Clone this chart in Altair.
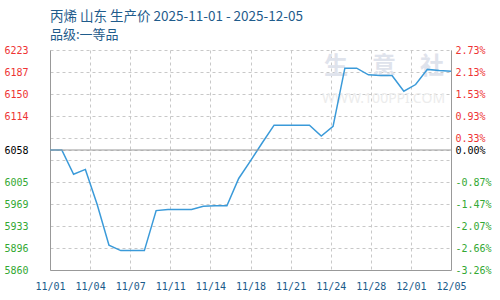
import json
import altair as alt
import numpy as np
import pandas as pd

# ---- data ----
dates = pd.date_range("2025-11-01", "2025-12-05", freq="D")
prices = [6058, 6058, 6018, 6026, 5968, 5901, 5892, 5892, 5892, 5958,
          5960, 5960, 5960, 5965, 5966, 5966, 6011, 6040, 6070, 6099,
          6099, 6099, 6099, 6081, 6097, 6193, 6193, 6182, 6181, 6181,
          6155, 6166, 6191, 6189, 6188]
x_tick_labels = ["11/01", "11/04", "11/07", "11/11", "11/14", "11/18",
                 "11/21", "11/24", "11/28", "12/01", "12/05"]
pct_labels = ["-3.26%", "-2.66%", "-2.07%", "-1.47%", "-0.87%", "",
              "0.33%", "0.93%", "1.53%", "2.13%", "2.73%"]
y_min, y_max, base = 5860, 6223, 6058
title_text = "丙烯 山东 生产价 2025-11-01 - 2025-12-05"
subtitle_text = "品级:一等品"
watermark = ["生\u3000意\u3000社", "WWW.100PPI.COM"]

df = pd.DataFrame({"day": (dates - dates[0]).days, "price": prices})
span = int(df["day"].max())
n = len(x_tick_labels)
step = span / (n - 1)
x_vals = [float(v) for v in np.linspace(0, span, n)]
y_vals = [float(v) for v in np.linspace(y_min, y_max, len(pct_labels))]
y_step = (y_max - y_min) / (len(pct_labels) - 1)

RED, GREEN, BLACK = "#ee3333", "#33a833", "#000000"
label_color = {
    "condition": [
        {"test": f"datum.value > {base + 0.5}", "value": RED},
        {"test": f"datum.value < {base - 0.5}", "value": GREEN},
    ],
    "value": BLACK,
}
MONO = "DejaVu Sans Mono"

x_enc = alt.X(
    "day:Q",
    scale=alt.Scale(domain=[0, span], nice=False, zero=False),
    axis=alt.Axis(
        values=x_vals,
        labelExpr=f"{json.dumps(x_tick_labels)}[round(datum.value/{step})]",
        grid=True, gridDash=[3, 3], gridColor="#c8c8c8",
        domainColor="#999999", ticks=False, labelPadding=11,
        labelFont=MONO, labelFontSize=10, labelColor="#1a5a8a",
        labelFlush=False, labelOverlap=False, title=None,
    ),
)

y_scale = alt.Scale(domain=[y_min, y_max], nice=False, zero=False)

line = alt.Chart(df).mark_line(color="#3a9ad9", strokeWidth=1.5).encode(
    x=x_enc,
    y=alt.Y(
        "price:Q", scale=y_scale,
        axis=alt.Axis(
            values=y_vals + [base],
            labelExpr=f"(datum.value != {base} && abs(datum.value - {base}) < 20) ? '' : format(datum.value, '.0f')",
            grid=True, gridDash=[3, 3], gridColor="#c8c8c8",
            domainColor="#999999", ticks=False, labelPadding=22,
            labelFont=MONO, labelFontSize=10, labelColor=label_color,
            labelOverlap=False, labelFlush=False, title=None,
        ),
    ),
)

base_df = pd.DataFrame({"price": [base]})
rule = alt.Chart(base_df).mark_rule(color="#999999", strokeWidth=1).encode(
    y=alt.Y(
        "price:Q", scale=y_scale,
        axis=alt.Axis(
            orient="right", values=y_vals + [base],
            labelExpr=f"datum.value == {base} ? '0.00%' : {json.dumps(pct_labels)}[round((datum.value - {y_min})/{y_step})]",
            grid=False, domainColor="#999999", ticks=False, labelPadding=4,
            labelFont=MONO, labelFontSize=10, labelColor=label_color,
            labelOverlap=False, labelFlush=False, title=None,
        ),
    ),
)

wm_df = pd.DataFrame({"t": watermark})
wm1 = alt.Chart(wm_df.iloc[[0]]).mark_text(
    font="Noto Sans CJK SC", fontSize=24, fontWeight="bold", color="#dfe3ec",
    align="left", baseline="middle",
).encode(text="t:N", x=alt.value(274), y=alt.value(17))
wm2 = alt.Chart(wm_df.iloc[[1]]).mark_text(
    font="Noto Sans", fontSize=14, color="#ececec",
    align="left", baseline="middle",
).encode(text="t:N", x=alt.value(272), y=alt.value(49))

chart = (
    alt.layer(wm1, wm2, line, rule)
    .resolve_scale(y="independent")
    .properties(
        width=401, height=220,
        autosize="none",
        padding={"left": 50, "top": 50, "right": 49, "bottom": 30},
        title=alt.TitleParams(
            text=title_text, subtitle=subtitle_text, anchor="start",
            frame="group", font="Noto Sans CJK SC", fontSize=13.5,
            fontWeight="normal", color="#1f5c8c",
            subtitleFont="Noto Sans CJK SC", subtitleFontSize=13,
            subtitleColor="#1f5c8c", subtitlePadding=6, offset=3,
        ),
    )
    .configure_view(stroke=None)
)

chart.save("out.html", embed_options={"renderer": "svg", "actions": False})
